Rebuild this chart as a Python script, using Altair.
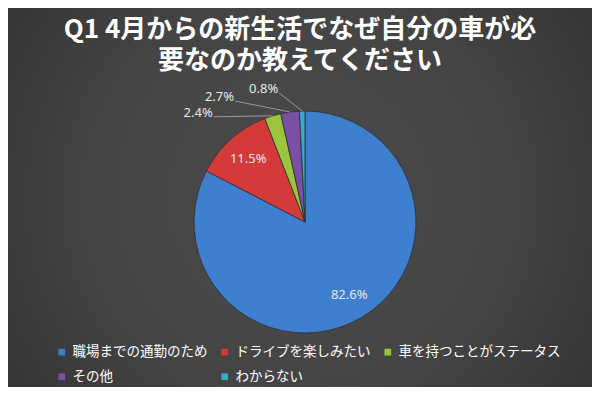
import altair as alt
import numpy as np
import pandas as pd

# ---- data ----
categories = ["職場までの通勤のため", "ドライブを楽しみたい", "車を持つことがステータス", "その他", "わからない"]
values = [82.6, 11.5, 2.4, 2.7, 0.8]
colors = ["#3f7fd0", "#d43a3a", "#9cc43c", "#7a4fa6", "#34aec8"]
title_lines = ["Q1 4月からの新生活でなぜ自分の車が必", "要なのか教えてください"]

# ---- layout / style (pixels inside the view) ----
TOP, LEFT = 80, 8          # page position of the view's origin
PAD_TOP = TOP - 8
W, H = 584, 379 - PAD_TOP
CX, CY = 305 - LEFT, 222 - TOP
R = 111
R_IN = 85
# leader-line start offsets from the slice edge for small (outside) labels
leader_dx = {2: -59, 3: -55, 4: -23}
leader_dy = {2: 1, 3: -11, 4: -18}
FONT = "Noto Sans CJK JP"

df = pd.DataFrame({"category": categories, "value": values, "order": range(len(values))})
total = df["value"].sum()
df["end"] = df["value"].cumsum() / total * 360
df["start"] = df["end"] - df["value"] / total * 360
df["mid"] = (df["start"] + df["end"]) / 2
df["label"] = df["value"].map(lambda v: f"{v:.1f}%")
rad = np.deg2rad(df["mid"])
df["ex"] = CX + R * np.sin(rad)
df["ey"] = CY - R * np.cos(rad)
inside = df["value"] >= 5
df["ix"] = CX + R_IN * np.sin(rad)
df["iy"] = CY - R_IN * np.cos(rad)

ins = df[inside].copy()
outs = df[~inside].copy()
outs["lx"] = [row.ex + leader_dx[i] for i, row in outs.iterrows()]
outs["ly"] = [row.ey + leader_dy[i] for i, row in outs.iterrows()]

line_rows = []
for i, row in outs.iterrows():
    line_rows.append({"key": i, "x": row.lx, "y": row.ly})
    line_rows.append({"key": i, "x": row.ex, "y": row.ey})
lines = pd.DataFrame(line_rows)

color_scale = alt.Scale(domain=categories, range=colors)

# radial-gradient backdrop covering the whole chart (title area included)
backdrop = alt.Chart(pd.DataFrame({"k": [0]})).mark_rect(
    fill=alt.Gradient(
        gradient="radial",
        stops=[
            alt.GradientStop(offset=0, color="#4c4c4c"),
            alt.GradientStop(offset=0.5, color="#444444"),
            alt.GradientStop(offset=1, color="#2d2d2d"),
        ],
        x1=0.5, y1=0.5, r1=0, x2=0.5, y2=0.5, r2=0.72,
    )
).encode(
    x=alt.value(0),
    x2=alt.value(W),
    y=alt.value(-PAD_TOP),
    y2=alt.value(H),
)

pie = alt.Chart(df).mark_arc(outerRadius=R, stroke="#2f2f2f", strokeWidth=0.8).encode(
    theta=alt.Theta("value:Q", stack=True),
    order=alt.Order("order:Q"),
    color=alt.Color(
        "category:N",
        scale=color_scale,
        sort=categories,
        legend=alt.Legend(
            title=None,
            orient="none",
            direction="horizontal",
            legendX=47,
            legendY=345 - TOP,
            columns=3,
            symbolType="square",
            symbolSize=45,
            symbolStrokeWidth=0,
            labelFontSize=13.5,
            labelFont=FONT,
            labelColor="white",
            labelLimit=300,
            columnPadding=10,
            rowPadding=10,
            labelOffset=4,
        ),
    ),
    x=alt.value(CX),
    y=alt.value(CY),
)

in_text = alt.Chart(ins).mark_text(
    fontSize=13, font="Noto Sans", color="#e8e8e8", align="center", baseline="middle"
).encode(
    x=alt.X("ix:Q", scale=None, axis=None),
    y=alt.Y("iy:Q", scale=None, axis=None),
    text="label:N",
)

leaders = alt.Chart(lines).mark_line(color="#9a9a9a", strokeWidth=1).encode(
    x=alt.X("x:Q", scale=None, axis=None),
    y=alt.Y("y:Q", scale=None, axis=None),
    detail="key:N",
)

out_text = alt.Chart(outs).mark_text(
    fontSize=13, font="Noto Sans", color="#e8e8e8", align="right", baseline="middle", dx=-1, dy=-4
).encode(
    x=alt.X("lx:Q", scale=None, axis=None),
    y=alt.Y("ly:Q", scale=None, axis=None),
    text="label:N",
)

chart = alt.layer(backdrop, pie, leaders, in_text, out_text).properties(
    width=W,
    height=H,
    autosize=alt.AutoSizeParams(type="none"),
    padding={"left": 0, "top": PAD_TOP, "right": 0, "bottom": 0},
    background="#363636",
    title=alt.Title(
        title_lines,
        fontSize=26,
        font=FONT,
        fontWeight="bold",
        color="white",
        lineHeight=31,
        anchor="middle",
        # the backdrop reaches the chart's top edge, so pull the title back down
        offset=-(PAD_TOP - 6),
        zindex=1,
    ),
).configure_view(stroke=None)

chart.save("out.html", embed_options={"renderer": "svg", "actions": False})
